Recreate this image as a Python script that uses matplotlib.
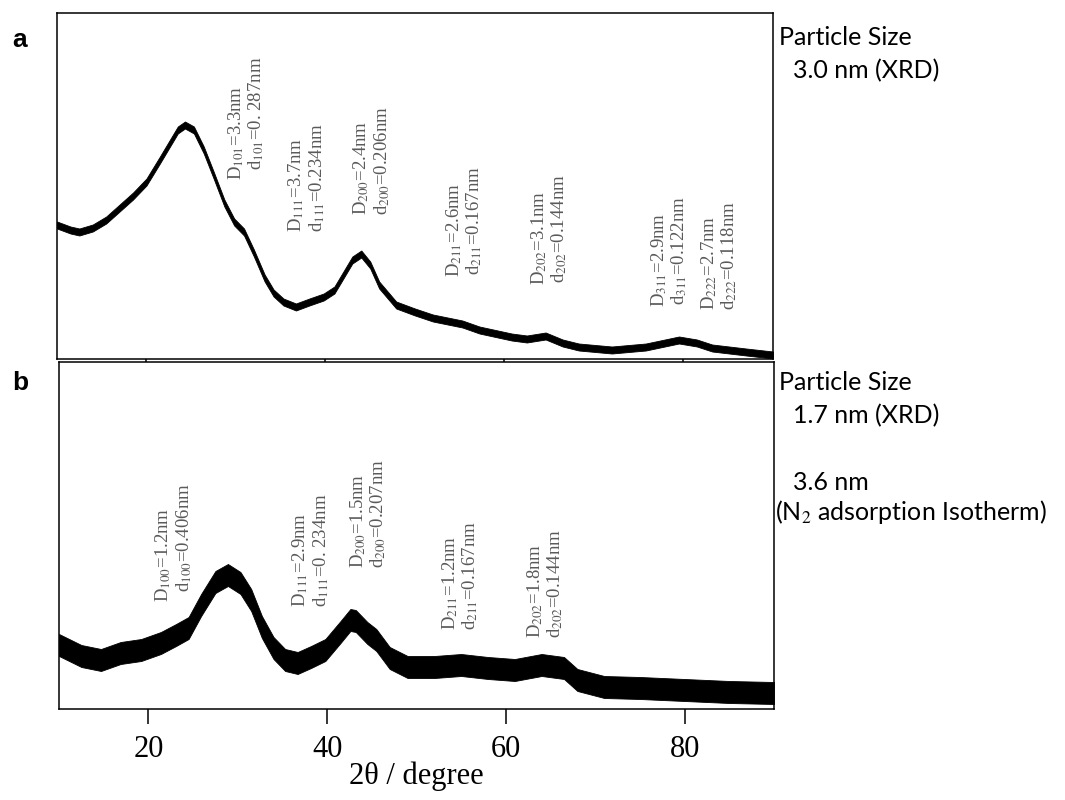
import matplotlib
matplotlib.use("Agg")
import matplotlib.pyplot as plt

plt.rcParams["mathtext.fontset"] = "stix"

# XRD pattern, sample a (centre of the noisy trace)
two_theta_a = [10, 11.5, 12.5, 14, 15.5, 17, 18.5, 20, 21.5, 22.5, 23.5, 24.3, 25.3,
               26.4, 27.5, 28.7, 29.8, 30.9, 32, 33.2, 34.2, 35.3, 36.7, 38.2, 39.8,
               41, 42, 43, 44, 45, 46, 47.9, 50, 52, 55.3, 57.2, 60.8, 62.5, 64.6,
               66.5, 68.3, 72, 75.8, 79.5, 81.5, 83.2, 87, 90]
intensity_a = [134, 129, 127, 131, 139, 151, 163, 177, 199, 214, 229, 234, 229,
               209, 184, 156, 137, 127, 106, 81, 66, 57, 52, 57, 62,
               69, 84, 99, 105, 94, 74, 54, 47, 41, 35, 29, 22, 20, 23,
               16, 12, 9, 12, 19, 16, 11, 7, 4]

# XRD pattern, sample b
two_theta_b = [10, 12.5, 14.7, 16.9, 19.2, 21.4, 23.1, 24.5, 25.9, 27.5, 28.9, 30.3,
               31.5, 32.7, 34, 35.3, 36.7, 38.2, 39.8, 41.5, 42.6, 43.2, 44.5, 45.5,
               47, 49, 52, 55, 58, 61, 64, 66.5, 68, 71, 75, 80, 85, 90]
intensity_b = [64, 53, 49, 56, 59, 66, 74, 81, 104, 127, 134, 126,
               109, 82, 61, 49, 46, 52, 59, 77, 89, 88, 76, 69,
               51, 42, 42, 44, 41, 39, 44, 41, 29, 22, 21, 19, 17, 16]

# peak labels: (D line, d line, x of D, y of D, x of d, y of d)
labels_a = [
    ("D$_{101}$=3.3nm", "d$_{101}$=0. 287nm", 30.0, 179, 32.2, 189),
    ("D$_{111}$=3.7nm", "d$_{111}$=0.234nm", 36.7, 127, 39.05, 127),
    ("D$_{200}$=2.4nm", "d$_{200}$=0.206nm", 43.97, 144, 46.3, 144),
    ("D$_{211}$=2.6nm", "d$_{211}$=0.167nm", 54.4, 82, 56.6, 84),
    ("D$_{202}$=3.1nm", "d$_{202}$=0.144nm", 63.9, 74, 66.1, 76),
    ("D$_{311}$=2.9nm", "d$_{311}$=0.122nm", 77.3, 52, 79.5, 54),
    ("D$_{222}$=2.7nm", "d$_{222}$=0.118nm", 82.9, 49, 85.1, 49),
]
labels_b = [
    ("D$_{100}$=1.2nm", "d$_{100}$=0.406nm", 21.7, 107, 24.0, 117),
    ("D$_{111}$=2.9nm", "d$_{111}$=0. 234nm", 37.0, 102, 39.3, 102),
    ("D$_{200}$=1.5nm", "d$_{200}$=0.207nm", 43.5, 141, 45.75, 141),
    ("D$_{211}$=1.2nm", "d$_{211}$=0.167nm", 53.8, 79, 56.0, 79),
    ("D$_{202}$=1.8nm", "d$_{202}$=0.144nm", 63.3, 71, 65.5, 71),
]

fig = plt.figure(figsize=(10.65, 8), dpi=100)
ax_a = fig.add_axes([0.0535, 0.55125, 0.6723, 0.4325])
ax_b = fig.add_axes([0.0554, 0.11375, 0.6714, 0.434375])


def draw_pattern(ax, x, y, hw, ymax, labels):
    lo = [v - hw for v in y]
    hi = [v + hw for v in y]
    ax.fill_between(x, lo, hi, color="black", lw=0.6, edgecolor="black")
    ax.set_xlim(10, 90)
    ax.set_ylim(0, ymax)
    ax.set_yticks([])
    for s in ax.spines.values():
        s.set_linewidth(1.1)
    for big, small, x1, y1, x2, y2 in labels:
        ax.text(x1, y1, big, rotation=90, ha="center", va="bottom",
                fontsize=13.5, color="#5a5a5a", family="Liberation Serif")
        ax.text(x2, y2, small, rotation=90, ha="center", va="bottom",
                fontsize=13.5, color="#5a5a5a", family="Liberation Serif")


draw_pattern(ax_a, two_theta_a, intensity_a, 3.5, 346, labels_a)
draw_pattern(ax_b, two_theta_b, intensity_b, 11, 347.5, labels_b)

ax_a.set_xticks([20, 40, 60, 80])
ax_a.tick_params(axis="x", direction="out", length=2.5, width=1.1, labelbottom=False)
ax_b.set_xticks([20, 40, 60, 80])
ax_b.tick_params(axis="x", direction="out", length=11, width=1.1, pad=8,
                 labelsize=22)
for t in ax_b.get_xticklabels():
    t.set_family("Liberation Serif")
ax_b.set_xlabel("2θ / degree", fontsize=22, family="Liberation Serif", labelpad=-2)

# panel letters
fig.text(12 / 1065, 1 - 47 / 800, "a", fontsize=19, fontweight="bold",
         family="Liberation Sans")
fig.text(12 / 1065, 1 - 390 / 800, "b", fontsize=19, fontweight="bold",
         family="Liberation Sans")

# side notes
side = dict(fontsize=18, family="Lato", color="black")
fig.text(779 / 1065, 1 - 45 / 800, "Particle Size", **side)
fig.text(793 / 1065, 1 - 78 / 800, "3.0 nm (XRD)", **side)
fig.text(779 / 1065, 1 - 390 / 800, "Particle Size", **side)
fig.text(793 / 1065, 1 - 423 / 800, "1.7 nm (XRD)", **side)
fig.text(793 / 1065, 1 - 490 / 800, "3.6 nm", **side)
fig.text(775 / 1065, 1 - 520 / 800, "(N$_2$ adsorption Isotherm)", **side)

fig.savefig("out.png", dpi=100)
